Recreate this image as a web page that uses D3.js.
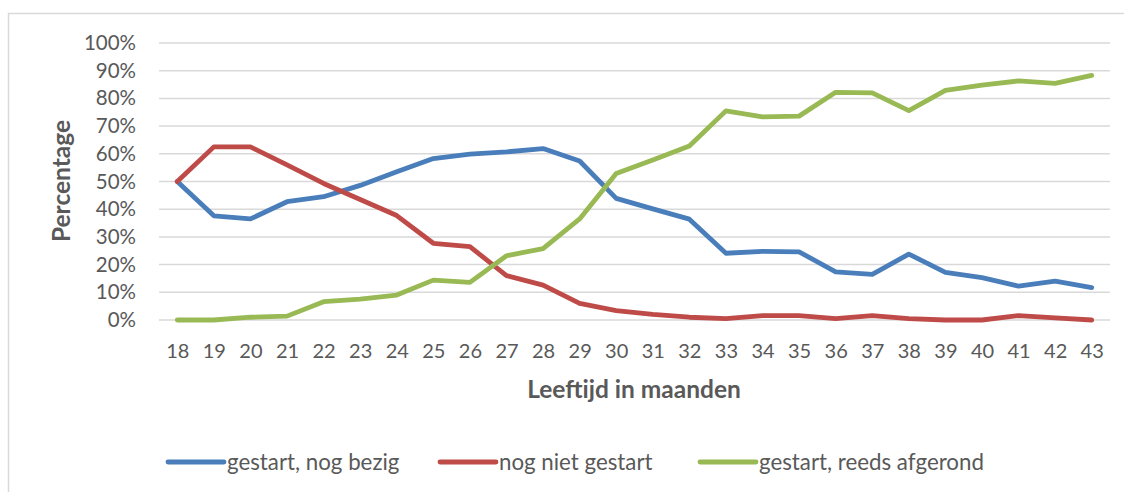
<!DOCTYPE html>
<html><head><meta charset="utf-8">
<script src="https://cdn.jsdelivr.net/npm/d3@7"></script>
<style>html,body{margin:0;padding:0;background:#fff;}svg{display:block;}</style>
</head><body>
<svg id="c" width="1124" height="492"></svg>
<script>
const months = [18,19,20,21,22,23,24,25,26,27,28,29,30,31,32,33,34,35,36,37,38,39,40,41,42,43];
const bezig = [50,37.6,36.5,42.7,44.5,48.6,53.5,58.3,59.9,60.7,61.9,57.4,43.9,40.1,36.4,24.1,24.8,24.6,17.4,16.5,23.8,17.2,15.3,12.2,14.0,11.7];
const nietGestart = [50,62.5,62.5,56.0,49.3,43.5,37.7,27.7,26.5,16.0,12.6,6.0,3.4,2.0,1.0,0.5,1.6,1.6,0.5,1.6,0.5,0,0,1.6,0.8,0];
const afgerond = [0,0,1.0,1.4,6.6,7.5,9.0,14.4,13.6,23.2,25.8,36.5,52.9,57.8,62.8,75.5,73.3,73.6,82.2,82.0,75.6,82.9,84.8,86.3,85.4,88.3];
const yTicks = [0,10,20,30,40,50,60,70,80,90,100];
const seriesNames = ["gestart, nog bezig","nog niet gestart","gestart, reeds afgerond"];
const seriesColors = ["#4a7ebb","#be4b48","#98b954"];
const seriesData = [bezig, nietGestart, afgerond];

(function(){
const svg = d3.select("#c");
const font = "Lato, 'Open Sans', sans-serif";
const textCol = "#595959";

svg.append("rect").attr("x",8.5).attr("y",13.5).attr("width",1300).attr("height",700)
  .attr("fill","#fff").attr("stroke","#d9d9d9").attr("stroke-width",1.5);

const pLeft = 159, pRight = 1110, pTop = 43, pBottom = 320;
const x = d3.scalePoint().domain(months).range([pLeft, pRight]).padding(0.5);
const y = d3.scaleLinear().domain([0,100]).range([pBottom, pTop]);

svg.append("g").selectAll("line").data(yTicks).join("line")
  .attr("x1",pLeft).attr("x2",pRight).attr("y1",d=>y(d)).attr("y2",d=>y(d))
  .attr("stroke","#d9d9d9").attr("stroke-width",1.5);

const yAxis = d3.axisLeft(y).tickValues(yTicks).tickFormat(d=>d+"%").tickSize(0).tickPadding(0);
const gy = svg.append("g").attr("transform",`translate(136,0)`).call(yAxis);
gy.select(".domain").remove();
gy.selectAll("text").attr("font-family",font).attr("font-size",20.5).attr("fill",textCol);

const xAxis = d3.axisBottom(x).tickSize(0).tickPadding(0);
const gx = svg.append("g").attr("transform",`translate(0,344)`).call(xAxis);
gx.select(".domain").remove();
gx.selectAll("text").attr("font-family",font).attr("font-size",20).attr("fill",textCol).attr("dy","0.71em");

const line = d3.line().x((d,i)=>x(months[i])).y(d=>y(d));
svg.append("g").selectAll("path").data(seriesData).join("path")
  .attr("d",d=>line(d)).attr("fill","none")
  .attr("stroke",(d,i)=>seriesColors[i]).attr("stroke-width",4.8)
  .attr("stroke-linejoin","round").attr("stroke-linecap","round");

svg.append("text").attr("x",634).attr("y",398).attr("text-anchor","middle")
  .attr("font-family",font).attr("font-weight","bold").attr("font-size",24.5).attr("fill",textCol)
  .text("Leeftijd in maanden");
svg.append("text").attr("transform","translate(70,181) rotate(-90)").attr("text-anchor","middle")
  .attr("font-family",font).attr("font-weight","bold").attr("font-size",24.5).attr("fill",textCol)
  .text("Percentage");

const legX = [168, 440, 700];
const lg = svg.append("g").selectAll("g").data(seriesNames).join("g")
  .attr("transform",(d,i)=>`translate(${legX[i]},462)`);
lg.append("line").attr("x1",0).attr("x2",56).attr("y1",0).attr("y2",0)
  .attr("stroke",(d,i)=>seriesColors[i]).attr("stroke-width",4.8).attr("stroke-linecap","round");
lg.append("text").attr("x",59).attr("y",0).attr("dy","0.35em")
  .attr("font-family",font).attr("font-size",22.3).attr("fill",textCol).text(d=>d);
})();
</script>
</body></html>
